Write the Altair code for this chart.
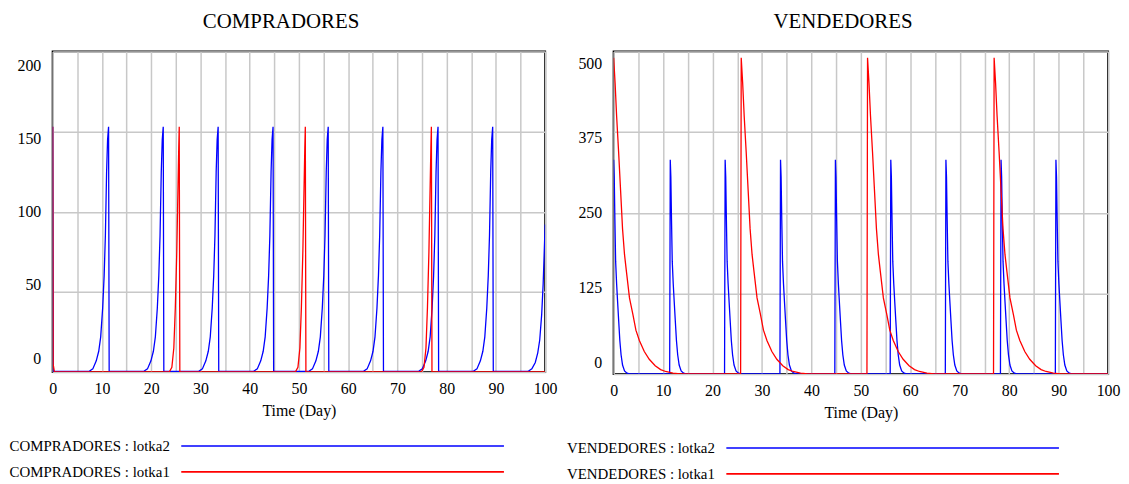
import altair as alt
import pandas as pd

# ---------------- values ----------------
X_TICKS = [0, 5, 10, 15, 20, 25, 30, 35, 40, 45, 50, 55, 60, 65, 70, 75, 80, 85, 90, 95, 100]
COMP_Y_TICKS = [0, 50, 100, 150, 200]
VEND_Y_TICKS = [0, 125, 250, 375, 500]

COMP_L2 = "COMPRADORES : lotka2"
COMP_L1 = "COMPRADORES : lotka1"
VEND_L2 = "VENDEDORES : lotka2"
VEND_L1 = "VENDEDORES : lotka1"

# COMPRADORES : lotka2 (blue): start, peak times, build-up shape, last partial rise
comp_l2_start_t = [0.0, 0.12]
comp_l2_start_v = [153, 0.4]
comp_l2_peaks = [11.35, 22.45, 33.6, 44.75, 55.95, 67.05, 78.25, 89.35]
comp_l2_dt = [-4.0, -3.2, -2.5, -2.0, -1.6, -1.2, -0.9, -0.65, -0.4, -0.2, 0.0, 0.12]
comp_l2_v = [0.4, 2, 7, 13, 22, 40, 60, 85, 125, 145, 153, 0.4]
comp_l2_end_t = [96.5, 97.3, 98.0, 98.5, 98.9, 99.3, 99.6, 100.0]
comp_l2_end_v = [0.4, 2, 6, 12, 20, 36, 55, 92]

# COMPRADORES : lotka1 (red)
comp_l1_start_t = [0.0, 0.1, 0.35]
comp_l1_start_v = [153, 5, 0.2]
comp_l1_peaks = [25.7, 51.3, 76.9]
comp_l1_dt = [-2.0, -1.5, -1.1, -0.8, -0.5, -0.3, -0.1, 0.0, 0.12]
comp_l1_v = [0.2, 3, 15, 40, 75, 108, 140, 153, 0.2]
comp_l1_end_t = [100.0]
comp_l1_end_v = [0.2]

# VENDEDORES : lotka2 (blue): peak then fast decay
vend_l2_peaks = [0.0, 11.45, 22.55, 33.75, 44.85, 56.05, 67.2, 78.35, 89.45]
vend_l2_dt = [-0.12, 0.0, 0.12, 0.25, 0.4, 0.6, 0.8, 1.0, 1.25, 1.5, 1.8, 2.2, 2.7, 3.2]
vend_l2_v = [0.2, 332, 305, 240, 175, 140, 112, 85, 52, 30, 14, 5, 1.5, 0.3]
vend_l2_end_t = [100.0]
vend_l2_end_v = [0.3]

# VENDEDORES : lotka1 (red): peak then slow decay
vend_l1_peaks = [0.0, 25.8, 51.35, 76.95]
vend_l1_dt = [-0.12, 0.0, 0.3, 0.6, 1.0, 1.4, 1.8, 2.2, 2.6, 3.2, 3.9, 4.5, 5.2, 6.2,
              7.2, 8.4, 9.5, 10.5, 12.0, 13.5]
vend_l1_v = [0.2, 490, 450, 400, 345, 285, 225, 185, 158, 118, 92, 68, 52, 35,
             23, 13, 7, 4, 1.5, 0.3]
vend_l1_end_t = [100.0]
vend_l1_end_v = [0.3]


def series_rows(name, peaks, dt, vals, start_t=(), start_v=(), end_t=(), end_v=()):
    rows = [{"t": t, "v": v, "series": name} for t, v in zip(start_t, start_v)]
    for p in peaks:
        for d, v in zip(dt, vals):
            t = p + d
            if 0 <= t <= 100:
                rows.append({"t": round(t, 3), "v": v, "series": name})
    rows += [{"t": t, "v": v, "series": name} for t, v in zip(end_t, end_v)]
    return rows


comp_df = pd.DataFrame(
    series_rows(COMP_L2, comp_l2_peaks, comp_l2_dt, comp_l2_v,
                comp_l2_start_t, comp_l2_start_v, comp_l2_end_t, comp_l2_end_v)
    + series_rows(COMP_L1, comp_l1_peaks, comp_l1_dt, comp_l1_v,
                  comp_l1_start_t, comp_l1_start_v, comp_l1_end_t, comp_l1_end_v)
)
vend_df = pd.DataFrame(
    series_rows(VEND_L2, vend_l2_peaks, vend_l2_dt, vend_l2_v,
                end_t=vend_l2_end_t, end_v=vend_l2_end_v)
    + series_rows(VEND_L1, vend_l1_peaks, vend_l1_dt, vend_l1_v,
                  end_t=vend_l1_end_t, end_v=vend_l1_end_v)
)

FONT = "Liberation Serif"


def panel(df, title, labels, ymax, yticks, off_expr, width, height, sym_len, legend_x, legend_y):
    return alt.Chart(df).mark_line(strokeWidth=1.3, clip=True).encode(
        x=alt.X("t:Q",
                scale=alt.Scale(domain=[0, 100], nice=False, zero=False),
                axis=alt.Axis(values=X_TICKS,
                              labelExpr="datum.value % 10 === 0 ? datum.label : ''",
                              title="Time (Day)", labelPadding=9, titlePadding=6,
                              labelFlush=False, labelOverlap=False)),
        y=alt.Y("v:Q",
                scale=alt.Scale(domain=[0, ymax], nice=False),
                axis=alt.Axis(values=yticks, title=None, labelPadding=12,
                              labelOffset=alt.ExprRef(off_expr))),
        color=alt.Color("series:N",
                        scale=alt.Scale(domain=labels, range=["#0000ff", "#ff0000"]),
                        legend=alt.Legend(orient="none", legendX=legend_x, legendY=legend_y,
                                          title=None,
                                          symbolType=f"M0,0L{sym_len},0",
                                          symbolSize=4,
                                          symbolStrokeWidth=1.6,
                                          labelAlign="right",
                                          labelOffset=alt.ExprRef("-19"),
                                          labelFont=FONT, labelFontSize=15,
                                          labelColor="black", labelLimit=0,
                                          rowPadding=10, padding=0)),
    ).properties(
        width=width, height=height,
        title=alt.TitleParams(text=title, font=FONT, fontSize=21, fontWeight="normal",
                              color="black", frame="group", anchor="middle", dx=-18,
                              baseline="alphabetic", offset=3),
    )


left = panel(comp_df, "COMPRADORES", [COMP_L2, COMP_L1], 200, COMP_Y_TICKS,
             "(datum.value - 100) * 0.14", 496, 323, 325, 122, 390)
right = panel(vend_df, "VENDEDORES", [VEND_L2, VEND_L1], 500, VEND_Y_TICKS,
              "(datum.value - 250) * 0.048", 498, 325, 335, 106, 392)

chart = alt.hconcat(left, right, spacing=69, bounds="flush").resolve_scale(
    color="independent"
).configure_view(
    stroke="black", strokeWidth=2
).configure_axis(
    labelFont=FONT, labelFontSize=16, labelColor="black",
    titleFont=FONT, titleFontSize=16, titleFontWeight="normal", titleColor="black",
    gridColor="#c8c8c8", gridWidth=1.5, domain=False, ticks=False
).properties(padding={"left": 8, "top": 0, "right": 0, "bottom": 0})

chart.save("out.html", embed_options={"renderer": "svg", "actions": False})
